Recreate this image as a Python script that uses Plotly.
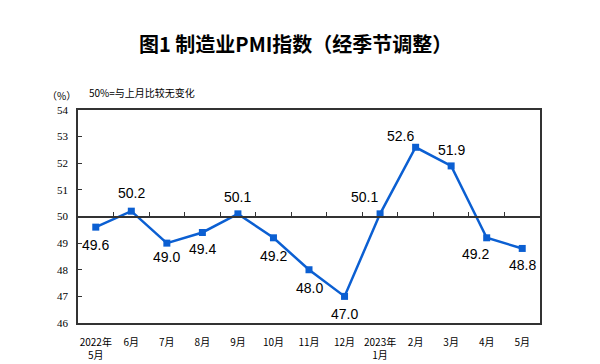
import plotly.graph_objects as go

months = ["2022年<br>5月", "6月", "7月", "8月", "9月", "10月", "11月", "12月",
          "2023年<br>1月", "2月", "3月", "4月", "5月"]
pmi = [49.6, 50.2, 49.0, 49.4, 50.1, 49.2, 48.0, 47.0, 50.1, 52.6, 51.9, 49.2, 48.8]
label_dx = [0, 0, 0, 0, 0, 0, 0, 0, -16, -15, 0, -11, 0]
label_dy = [-18, 18, -14, -17, 17, -18, -18, -18, 17, 11, 16, -16, -17]
yticks = [46, 47, 48, 49, 50, 51, 52, 53, 54]

x = list(range(len(months)))
blue = "#0b5fd2"
cjk = "Noto Sans CJK SC"

fig = go.Figure()
fig.add_trace(go.Scatter(
    x=x, y=pmi, mode="lines+markers",
    line=dict(color=blue, width=2.5),
    marker=dict(symbol="square", size=7, color=blue),
    hoverinfo="skip", showlegend=False,
))
# invisible trace so the 50-line axis is drawn
fig.add_trace(go.Scatter(x=[x[0]], y=[50], xaxis="x2", mode="markers",
                         marker=dict(opacity=0), showlegend=False, hoverinfo="skip"))

for xi, v, dx, dy in zip(x, pmi, label_dx, label_dy):
    fig.add_annotation(x=xi, y=v, text=f"{v:.1f}", showarrow=False,
                       xshift=dx, yshift=dy,
                       font=dict(family="Liberation Sans, Arial", size=14, color="#000"))

fig.add_annotation(x=-0.035, y=1.07, xref="paper", yref="paper", xanchor="center",
                   yanchor="middle", text="（%）", showarrow=False,
                   font=dict(family=cjk, size=10, color="#000"))
fig.add_annotation(x=0.019, y=1.08, xref="paper", yref="paper", xanchor="left",
                   yanchor="middle", text="50%=与上月比较无变化", showarrow=False,
                   font=dict(family=cjk, size=10, color="#000"))

fig.update_layout(
    width=592, height=356,
    margin=dict(l=70, r=60, t=102, b=41),
    paper_bgcolor="white", plot_bgcolor="white",
    title=dict(text="<b>图1 制造业PMI指数（经季节调整）</b>", x=0.486, xanchor="center",
               y=0.896, yanchor="middle",
               font=dict(family=cjk, size=20, color="#000")),
    xaxis=dict(range=[-0.5, 12.5], tickmode="array", tickvals=x, ticktext=months,
               showline=True, linecolor="#333", linewidth=1.5, mirror=True,
               ticks="", showgrid=False, zeroline=False, ticklabelstandoff=9,
               automargin=False,
               tickfont=dict(family=cjk, size=10, color="#000")),
    xaxis2=dict(range=[-0.5, 12.5], overlaying="x", anchor="free", position=0.5,
                side="top", showline=True, linecolor="#333", linewidth=1.5,
                tickmode="array", tickvals=[i + 0.5 for i in x[:-1]],
                ticks="outside", ticklen=4, tickcolor="#333", tickwidth=1,
                showticklabels=False, showgrid=False, zeroline=False,
                automargin=False),
    yaxis=dict(range=[46, 54], tickmode="array", tickvals=yticks,
               showline=True, linecolor="#333", linewidth=1.5, mirror=True,
               ticks="inside", ticklen=4, tickcolor="#333",
               showgrid=False, zeroline=False, ticklabelstandoff=6,
               automargin=False,
               tickfont=dict(family="Liberation Serif", size=11, color="#000")),
)

fig.write_html("out.html")
